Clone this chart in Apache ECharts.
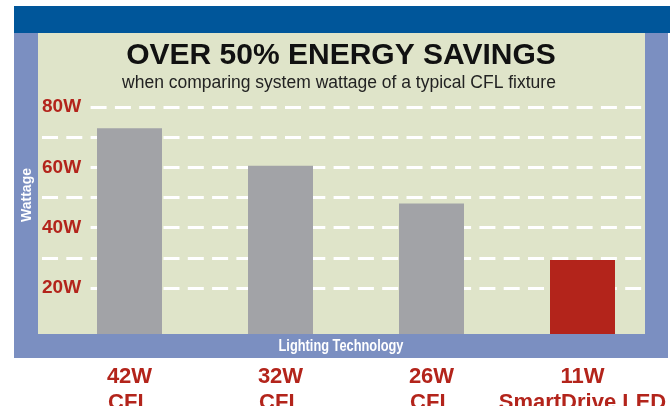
<!DOCTYPE html>
<html>
<head>
<meta charset="utf-8">
<script src="https://cdn.jsdelivr.net/npm/echarts@6/dist/echarts.min.js"></script>
<style>
  html, body { margin: 0; padding: 0; background: #ffffff; }
  #chart { width: 670px; height: 406px; }
</style>
</head>
<body>
<div id="chart"></div>
<script>
// ---- data ----
const titleText = 'OVER 50% ENERGY SAVINGS';
const subtitleText = 'when comparing system wattage of a typical CFL fixture';
const yAxisTitle = 'Wattage';
const xAxisTitle = 'Lighting Technology';
const categories = ['42W\nCFL', '32W\nCFL', '26W\nCFL', '11W\nSmartDrive LED'];
const wattage = [73, 60.5, 48, 29.3];
const highlighted = [false, false, false, true];
const yLabelValues = [20, 40, 60, 80];

// ---- style ----
const DARK_BLUE = '#00569a';
const FRAME = '#7b8fc1';
const PLOT_BG = '#dfe4c9';
const GRAY = '#a2a3a7';
const RED = '#b3241b';
const FONT = "'Liberation Sans', Arial, sans-serif";

const chart = echarts.init(document.getElementById('chart'), null, { renderer: 'canvas' });

const option = {
  animation: false,
  backgroundColor: '#ffffff',
  title: [
    {
      text: titleText, left: 341, top: 41, textAlign: 'center', padding: 0,
      textStyle: { fontFamily: FONT, fontWeight: 'bold', fontSize: 30, lineHeight: 30, color: '#111111' }
    },
    {
      text: subtitleText, left: 339, top: 75, textAlign: 'center', padding: 0,
      textStyle: { fontFamily: FONT, fontWeight: 'normal', fontSize: 17.5, lineHeight: 17, color: '#222222' }
    }
  ],
  graphic: [
    { type: 'rect', z: -20, shape: { x: 14, y: 6, width: 656, height: 27 }, style: { fill: DARK_BLUE } },
    { type: 'rect', z: -20, shape: { x: 14, y: 33, width: 654, height: 325 }, style: { fill: FRAME } },
    { type: 'rect', z: -19, shape: { x: 38, y: 33, width: 607, height: 301 }, style: { fill: PLOT_BG } },
    { type: 'rect', z: 100, shape: { x: 14, y: 334, width: 654, height: 24 }, style: { fill: FRAME } },
    {
      type: 'text', z: 101, x: 341, y: 346.5, scaleX: 0.8,
      style: { text: xAxisTitle, fill: '#ffffff', font: "bold 16px " + FONT, textAlign: 'center', textVerticalAlign: 'middle' }
    },
    {
      type: 'text', z: 101, x: 26.7, y: 195, rotation: Math.PI / 2,
      style: { text: yAxisTitle, fill: '#ffffff', font: "bold 14px " + FONT, textAlign: 'center', textVerticalAlign: 'middle' }
    }
  ],
  grid: [
    { left: 42, right: 26, top: 107, bottom: 118, containLabel: false, outerBoundsMode: 'none' },
    { left: 54, right: 12, top: 107, bottom: 57.5, containLabel: false, outerBoundsMode: 'none' }
  ],
  xAxis: [
    { type: 'value', gridIndex: 0, show: false, min: 0, max: 1 },
    {
      type: 'category', gridIndex: 1, data: categories,
      axisLine: { show: false }, axisTick: { show: false },
      axisLabel: {
        interval: 0, margin: 15, color: RED, fontFamily: FONT, fontWeight: 'bold',
        fontSize: 22, lineHeight: 26
      }
    }
  ],
  yAxis: [
    {
      type: 'value', gridIndex: 0, min: 20, max: 80, interval: 10, z: 0,
      axisLine: { show: false }, axisTick: { show: false }, axisLabel: { show: false },
      splitLine: { show: true, lineStyle: { color: '#ffffff', width: 3, type: [16, 8.3] } }
    },
    {
      type: 'value', gridIndex: 0, position: 'left', min: 20, max: 80, interval: 20, z: 5,
      axisLine: { show: false }, axisTick: { show: false }, splitLine: { show: false },
      axisLabel: {
        inside: true, margin: 0, align: 'left', color: RED, fontFamily: FONT, fontWeight: 'bold', fontSize: 19,
        backgroundColor: PLOT_BG, padding: [2, 5, 2, 0],
        formatter: function (v) { return yLabelValues.indexOf(v) >= 0 ? v + 'W' : ''; }
      }
    },
    { type: 'value', gridIndex: 1, min: 0, max: 80, show: false }
  ],
  series: [
    {
      type: 'bar', xAxisIndex: 1, yAxisIndex: 2, barWidth: 65, z: 2,
      data: wattage.map(function (v, i) {
        return { value: v, itemStyle: { color: highlighted[i] ? RED : GRAY } };
      })
    }
  ]
};

chart.setOption(option);
</script>
</body>
</html>
